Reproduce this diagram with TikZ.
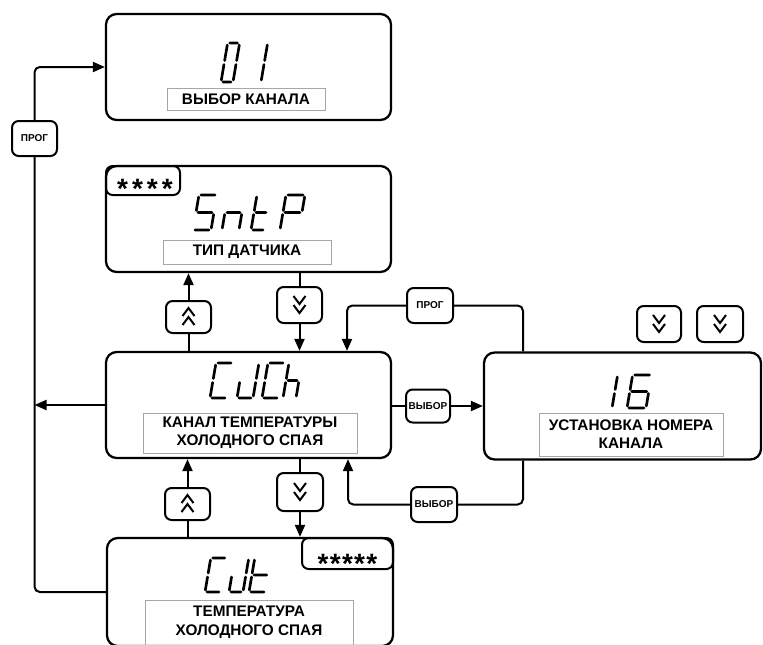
\documentclass[tikz,border=0pt]{standalone}
\usepackage{fontspec}
\setmainfont{Liberation Sans}
\usetikzlibrary{arrows.meta,calc}
\tikzset{
  mainbox/.style={draw, line width=1.7pt, rounded corners=8pt, inner sep=0pt},
  labelbox/.style={draw=gray!70, line width=0.7pt, inner sep=0pt, align=center,
    font=\bfseries\fontsize{11.5}{13.5}\selectfont},
  labeltext/.style={inner sep=0pt, align=center, font=\bfseries\fontsize{11.5}{14.25}\selectfont},
  btn/.style={draw, line width=1.5pt, rounded corners=5pt, inner sep=0pt,
    font=\bfseries\fontsize{7.5}{9}\selectfont},
  starbox/.style={draw, line width=1.5pt, rounded corners=5pt, inner sep=0pt},
  startext/.style={anchor=base, inner sep=0pt, font=\bfseries\fontsize{21}{21}\selectfont},
  conn/.style={line width=1.5pt, rounded corners=4pt},
  arr/.style={conn, -{Triangle[length=9pt,width=7.5pt]}},
  chev/.style={line width=1.5pt},
  segline/.style={line width=2pt, line cap=round},
  sa/.style={insert path={(2,\gh)--(\gw-2,\gh)}},
  sb/.style={insert path={(\gw,\gh-2)--(\gw,\gh/2+2)}},
  sc/.style={insert path={(\gw,\gh/2-2)--(\gw,2)}},
  sd/.style={insert path={(2,0)--(\gw-2,0)}},
  se/.style={insert path={(0,2)--(0,\gh/2-2)}},
  sf/.style={insert path={(0,\gh/2+2)--(0,\gh-2)}},
  sg/.style={insert path={(2,\gh/2)--(\gw-2,\gh/2)}},
  chevup/.pic={\draw[chev] (-6,-1)--(0,-9)--(6,-1); \draw[chev] (-6,8)--(0,0)--(6,8);},
  chevdown/.pic={\draw[chev] (-6,-9)--(0,-1)--(6,-9); \draw[chev] (-6,0)--(0,8)--(6,0);}
}
\newcommand\glyph[5]{%
  \begin{scope}[shift={(#1,#2)},x=0.75pt,y=0.75pt,xslant=0.17]
    \def\gw{#3}\def\gh{#4}%
    \draw[segline,#5];
  \end{scope}}
\begin{document}
\begin{tikzpicture}[x=0.75pt,y=-0.75pt]
\useasboundingbox (0,0) rectangle (763,644);
\clip (0,0) rectangle (763,644);

% main display boxes
\node[mainbox, minimum width=213.75pt, minimum height=79.5pt] (b01) at (248.5,67) {};
\node[mainbox, minimum width=213.75pt, minimum height=79.5pt] (bsntp) at (248.5,219) {};
\node[mainbox, minimum width=213.75pt, minimum height=79.5pt] (bcjch) at (248.5,405) {};
\node[mainbox, minimum width=214.5pt, minimum height=81pt] (bcjt) at (250,592) {};
\node[mainbox, minimum width=207.75pt, minimum height=80.25pt] (bust) at (622.5,406) {};

% star boxes
\node[starbox, minimum width=55.5pt, minimum height=21.75pt] (st1) at (143,180.5) {};
\node[startext] (st1t) at (145,198) {*\hspace{3pt}*\hspace{3pt}*\hspace{3pt}*};
\node[starbox, minimum width=68.25pt, minimum height=23.25pt] (st2) at (347.5,553.5) {};
\node[startext] (st2t) at (347.5,573) {*\hspace{1pt}*\hspace{1pt}*\hspace{1pt}*\hspace{1pt}*};

% label boxes
\node[labelbox, minimum width=118.5pt, minimum height=16.5pt] (l01) at (246,99) {ВЫБОР КАНАЛА};
\node[labelbox, minimum width=126pt, minimum height=18pt] (lsntp) at (247,252) {ТИП ДАТЧИКА};
\node[labelbox, minimum width=160.5pt, minimum height=30pt] (lcjch) at (250,433) {КАНАЛ ТЕМПЕРАТУРЫ\\ХОЛОДНОГО СПАЯ};
\node[labelbox, minimum width=138pt, minimum height=32.25pt] (lust) at (631,434.5) {УСТАНОВКА НОМЕРА\\КАНАЛА};
\node[labelbox, minimum width=156pt, minimum height=39pt] (lcjt) at (249,626) {};
\node[labeltext] (lcjtt) at (249,622) {ТЕМПЕРАТУРА\\ХОЛОДНОГО СПАЯ};

% seven-segment readings
\glyph{221}{82}{12}{39}{sa,sb,sc,sd,se,sf}
\glyph{249}{82}{12}{39}{sb,sc}
\glyph{193}{230}{18}{35}{sa,sf,sg,sc,sd}
\glyph{222}{230}{17}{35}{se,sg,sc}
\glyph{251}{230}{14}{35}{sf,se,sg,sd}
\glyph{280}{230}{19}{35}{sa,sb,sf,sg,se}
\glyph{210}{398}{17}{35}{sa,sf,se,sd}
\glyph{237}{398}{16}{35}{sb,sc,sd,se}
\glyph{262}{398}{17}{35}{sa,sf,se,sd}
\glyph{283}{398}{13}{35}{sf,se,sg,sc}
\glyph{205}{592}{16}{34}{sa,sf,se,sd}
\glyph{229}{592}{14}{34}{sb,sc,sd,se}
\glyph{249}{592}{17}{34}{sf,se,sg,sd}
\glyph{612}{408}{10}{33}{se,sf}
\glyph{627}{408}{19}{33}{sa,sf,sg,se,sd,sc}

% buttons
\node[btn, minimum width=33.75pt, minimum height=26.25pt] (prog1) at (34.5,138.5) {ПРОГ};
\node[btn, minimum width=33.75pt, minimum height=24pt] (up1) at (188.5,317) {};
\node[btn, minimum width=33.75pt, minimum height=27pt] (dn1) at (299.5,305) {};
\node[btn, minimum width=34.5pt, minimum height=26.25pt] (prog2) at (430,305.5) {ПРОГ};
\node[btn, minimum width=33pt, minimum height=24.75pt] (sel1) at (428,406) {ВЫБОР};
\node[btn, minimum width=33pt, minimum height=27pt] (dnA) at (659,324) {};
\node[btn, minimum width=34.5pt, minimum height=27pt] (dnB) at (720,324) {};
\node[btn, minimum width=34.5pt, minimum height=26.25pt] (sel2) at (434,504.5) {ВЫБОР};
\node[btn, minimum width=33.75pt, minimum height=24pt] (up2) at (187.5,504) {};
\node[btn, minimum width=34.5pt, minimum height=28.5pt] (dn2) at (300,492) {};

\pic at (up1.center) {chevup};
\pic at (up2.center) {chevup};
\pic at (dn1.center) {chevdown};
\pic at (dn2.center) {chevdown};
\pic at (dnA.center) {chevdown};
\pic at (dnB.center) {chevdown};

% helper coordinates
\coordinate (cR) at (523,0);
\coordinate (cL) at (347,0);
\coordinate (cL2) at (348,0);

% connectors
\draw[conn] (bcjt.west) -| (prog1.south);
\draw[arr] (prog1.north) |- (b01.west);
\draw[arr] (bcjch.west) -- (bcjch.west -| prog1.center);

\draw[conn] (up1.south) -- (up1.south |- bcjch.north);
\draw[arr] (up1.north) -- (up1.north |- bsntp.south);
\draw[conn] (dn1.north |- bsntp.south) -- (dn1.north);
\draw[arr] (dn1.south) -- (dn1.south |- bcjch.north);

\draw[conn] (prog2.east) -| (cR |- bust.north);
\draw[arr] (prog2.west) -| (cL |- bcjch.north);

\draw[conn] (bcjch.east |- sel1.west) -- (sel1.west);
\draw[arr] (sel1.east) -- (sel1.east -| bust.west);

\draw[conn] (sel2.east) -| (cR |- bust.south);
\draw[arr] (sel2.west) -| (cL2 |- bcjch.south);

\draw[conn] (up2.south) -- (up2.south |- bcjt.north);
\draw[arr] (up2.north) -- (up2.north |- bcjch.south);
\draw[conn] (dn2.north |- bcjch.south) -- (dn2.north);
\draw[arr] (dn2.south) -- (dn2.south |- bcjt.north);
\end{tikzpicture}
\end{document}
